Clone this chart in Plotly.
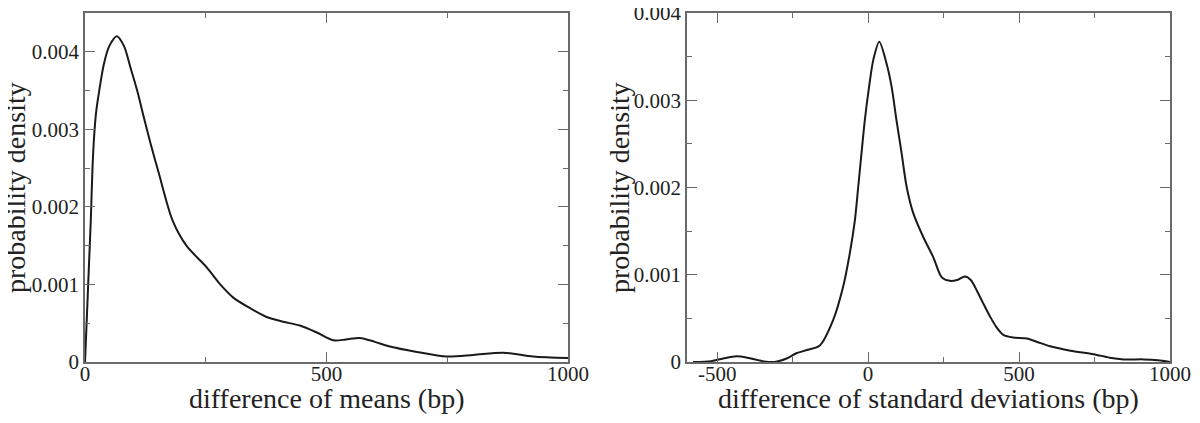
import plotly.graph_objects as go

# Left panel: difference of means
mean_x = [0, 4, 8, 12, 15.5, 19, 23, 29, 39, 50, 66, 81, 94, 108, 122, 136, 153, 181, 210, 252,
          280, 307, 340, 376, 410, 445, 480, 514, 540, 569, 600, 631, 687, 749, 804, 866, 928, 1000]
mean_d = [0, 0.0006, 0.00122, 0.00183, 0.0025, 0.00292, 0.00322, 0.00348, 0.00384, 0.00407, 0.0042,
          0.00407, 0.0038, 0.0035, 0.00315, 0.00281, 0.00243, 0.00183, 0.0015, 0.00122,
          0.001, 0.00083, 0.0007, 0.00058, 0.00052, 0.00047, 0.00038, 0.00028, 0.00029, 0.00031,
          0.00026, 0.0002, 0.00013, 0.00007, 0.00009, 0.00012, 0.00007, 0.00005]

# Right panel: difference of standard deviations
sd_x = [-580, -520, -480, -437, -400, -350, -310, -270, -238, -200, -160, -116, -83, -61, -44,
        -33, -22, -11, 3, 17, 37, 61, 78, 94, 111, 128, 150, 183, 216, 244, 271, 295, 321,
        340, 360, 380, 404, 425, 448, 480, 526, 560, 603, 670, 747, 800, 847, 913, 960, 1000]
sd_d = [0, 0.00001, 0.00004, 0.000065, 0.00005, 0.00001, 0, 0.00004, 0.0001, 0.00014, 0.00019,
        0.00048, 0.00086, 0.00124, 0.00162, 0.002, 0.00239, 0.00277, 0.00315, 0.00346, 0.00367,
        0.00342, 0.00315, 0.00277, 0.00239, 0.002, 0.0017, 0.00143, 0.0012, 0.00097, 0.00093,
        0.00094, 0.00098, 0.00094, 0.00082, 0.00068, 0.00052, 0.0004, 0.00031, 0.00028,
        0.00027, 0.00023, 0.00018, 0.00013, 0.00009, 0.00005, 0.00003, 0.00003, 0.00002, 0]

left_xticks = [0, 500, 1000]
left_yticks = [0, 0.001, 0.002, 0.003, 0.004]
left_yticktext = ["0", "0.001", "0.002", "0.003", "0.004"]
right_xticks = [-500, 0, 500, 1000]
right_yticks = [0, 0.001, 0.002, 0.003, 0.004]
right_yticktext = ["0", "0.001", "0.002", "0.003", "0.004"]

FONT = "Liberation Serif"
TXT = "#222222"
AX = "#6a6a6a"

# page body has an 8px margin; work in page pixels and convert
OFF = 8
W, H = 1200 - OFF, 423 - OFF


def px(x):
    return (x - OFF) / W


def py(y):
    return 1 - (y - OFF) / H


fig = go.Figure()
fig.add_trace(go.Scatter(x=mean_x, y=mean_d, mode="lines", xaxis="x", yaxis="y",
                         line=dict(color="#1a1a1a", width=2, shape="spline", smoothing=0.8),
                         showlegend=False, hoverinfo="skip"))
fig.add_trace(go.Scatter(x=sd_x, y=sd_d, mode="lines", xaxis="x2", yaxis="y2",
                         line=dict(color="#1a1a1a", width=2, shape="spline", smoothing=0.8),
                         showlegend=False, hoverinfo="skip"))


def xax(domain, rng, ticks, anchor):
    return dict(domain=domain, range=rng, tickvals=ticks, ticktext=[str(t) for t in ticks],
                ticks="inside", ticklen=10, tickwidth=1, tickcolor=AX,
                minor=dict(ticks="inside", ticklen=5, dtick=250, tickcolor=AX, tickwidth=1),
                showline=True, linecolor=AX, linewidth=1.5, mirror="allticks",
                showgrid=False, zeroline=False, anchor=anchor, automargin=False,
                ticklabelstandoff=-8, ticklabeloverflow="allow",
                tickfont=dict(family=FONT, size=21, color=TXT))


def yax(domain, rng, ticks, text, anchor):
    return dict(domain=domain, range=rng, tickvals=ticks, ticktext=text,
                ticks="inside", ticklen=10, tickwidth=1, tickcolor=AX,
                minor=dict(ticks="inside", ticklen=5, dtick=0.0005, tickcolor=AX, tickwidth=1),
                showline=True, linecolor=AX, linewidth=1.5, mirror="allticks",
                showgrid=False, zeroline=False, anchor=anchor, automargin=False,
                ticklabeloverflow="allow",
                tickfont=dict(family=FONT, size=21, color=TXT))


ydom = [py(362), py(13)]
title_font = dict(family=FONT, size=28, color=TXT)
annotations = [
    dict(text="difference of means (bp)", x=px(326.5), y=py(398), xref="paper", yref="paper",
         xanchor="center", yanchor="middle", showarrow=False, font=title_font),
    dict(text="difference of standard deviations (bp)", x=px(928.5), y=py(398), xref="paper",
         yref="paper", xanchor="center", yanchor="middle", showarrow=False, font=title_font),
    dict(text="probability density", x=px(15.5), y=py(187.5), xref="paper", yref="paper",
         xanchor="center", yanchor="middle", showarrow=False, textangle=-90,
         font=dict(family=FONT, size=28, color=TXT)),
    dict(text="probability density", x=px(619.5), y=py(187.5), xref="paper", yref="paper",
         xanchor="center", yanchor="middle", showarrow=False, textangle=-90,
         font=dict(family=FONT, size=28, color=TXT)),
]

fig.update_layout(
    width=W, height=H,
    margin=dict(l=0, r=0, t=0, b=0),
    paper_bgcolor="white", plot_bgcolor="white",
    xaxis=xax([px(85), px(568)], [0, 1000], left_xticks, "y"),
    yaxis=yax(ydom, [0, 0.0045], left_yticks, left_yticktext, "x"),
    xaxis2=xax([px(687), px(1170)], [-600, 1000], right_xticks, "y2"),
    yaxis2=yax(ydom, [0, 0.004], right_yticks, right_yticktext, "x2"),
    annotations=annotations,
)

fig.write_html("out.html")
